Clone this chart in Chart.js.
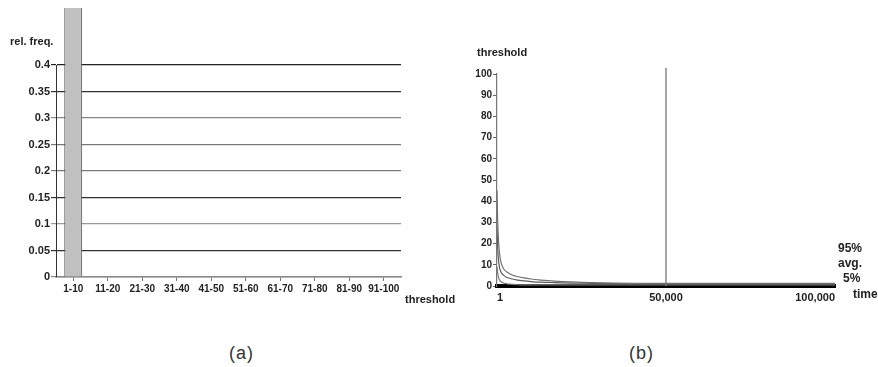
<!DOCTYPE html>
<html>
<head>
<meta charset="utf-8">
<script src="https://cdn.jsdelivr.net/npm/chart.js@4.4.1/dist/chart.umd.min.js"></script>
<style>
  html, body { margin: 0; padding: 0; background: #fff; }
  #wrap { position: relative; width: 878px; height: 367px; overflow: hidden; background: #fff; }
  canvas { position: absolute; }
  .t { position: absolute; font-family: "Liberation Sans", Arial, sans-serif; color: #222; white-space: nowrap; line-height: 1; }
  .b { font-weight: bold; font-size: 11px; }
  .cap { font-size: 18px; letter-spacing: 1px; color: #333; }
</style>
</head>
<body>
<div id="wrap">
  <canvas id="ca" width="440" height="300" style="left:0px;top:8px;"></canvas>
  <canvas id="cb" width="438" height="290" style="left:440px;top:40px;"></canvas>
  <div class="t b" style="left:10px;top:36px;">rel. freq.</div>
  <div class="t b" style="left:405px;top:294px;">threshold</div>
  <div class="t b" style="left:477px;top:47px;">threshold</div>
  <div class="t b" style="left:838px;top:242px;font-size:12px;">95%</div>
  <div class="t b" style="left:838px;top:257px;font-size:12px;">avg.</div>
  <div class="t b" style="left:843px;top:272px;font-size:12px;">5%</div>
  <div class="t b" style="left:853px;top:288px;font-size:12px;">time</div>
  <div class="t cap" style="left:229px;top:344px;">(a)</div>
  <div class="t cap" style="left:629px;top:344px;">(b)</div>
</div>
<script>
// ---------- Panel (a) data ----------
const thresholdBins = ['1-10','11-20','21-30','31-40','41-50','51-60','61-70','71-80','81-90','91-100'];
const relFreq = [0.97, 0, 0, 0, 0, 0, 0, 0, 0, 0];
const relFreqTicks = [0, 0.05, 0.1, 0.15, 0.2, 0.25, 0.3, 0.35, 0.4];

// ---------- Panel (b) data ----------
const timeSteps   = [1, 300, 700, 1200, 2000, 3000, 4500, 6000, 8000, 10000, 13000, 17000, 22000, 28000, 35000, 45000, 60000, 80000, 100000];
const threshold95 = [45, 26, 16, 11, 8, 6.5, 5.2, 4.5, 3.8, 3.3, 2.8, 2.3, 1.9, 1.6, 1.4, 1.25, 1.2, 1.2, 1.2];
const thresholdAvg= [28, 15, 9, 6.5, 5, 4, 3.3, 2.8, 2.4, 2.1, 1.8, 1.6, 1.4, 1.2, 1.1, 1.0, 1.0, 1.0, 1.0];
const threshold5  = [9, 5, 3, 2, 1.4, 1.0, 0.8, 0.6, 0.5, 0.5, 0.5, 0.5, 0.5, 0.5, 0.5, 0.5, 0.5, 0.5, 0.5];
const markerTime  = [50000, 50000];
const markerLevel = [0, 103];
const timeTicks   = [1, 50000, 100000];
const thresholdTicks = [0, 10, 20, 30, 40, 50, 60, 70, 80, 90, 100];

const FONT = '"Liberation Sans", Arial, sans-serif';
Chart.defaults.font.family = FONT;
Chart.defaults.color = '#222';

const gridShade = ['#888', '#333', '#999', '#333', '#777', '#777', '#888', '#333', '#222'];

new Chart(document.getElementById('ca'), {
  type: 'bar',
  data: {
    labels: thresholdBins,
    datasets: [{
      data: relFreq,
      backgroundColor: '#c0c0c0',
      borderColor: '#444',
      borderWidth: { left: 1, right: 1, top: 1, bottom: 0 },
      borderSkipped: false,
      barPercentage: 0.52,
      categoryPercentage: 1,
      clip: false
    }]
  },
  options: {
    responsive: false,
    animation: false,
    events: [],
    layout: { padding: { top: 57, right: 39, left: 0, bottom: 0 } },
    plugins: { legend: { display: false }, tooltip: { enabled: false } },
    scales: {
      x: {
        offset: true,
        grid: { offset: false, drawOnChartArea: false, drawTicks: true, tickLength: 4, color: '#777', lineWidth: 1 },
        border: { color: '#888', width: 1.5 },
        ticks: { font: { size: 10, weight: 'bold' }, color: '#222', padding: 2, maxRotation: 0, autoSkip: false },
        afterFit: s => { s.height = 31; }
      },
      y: {
        min: 0, max: 0.4,
        afterBuildTicks: s => { s.ticks = relFreqTicks.map(v => ({ value: v })); },
        grid: {
          color: ctx => gridShade[ctx.index] || '#444',
          lineWidth: 1.2,
          tickLength: 5,
          drawTicks: true
        },
        border: { color: '#333', width: 1 },
        ticks: { font: { size: 11, weight: 'bold' }, color: '#222', padding: 1, callback: v => String(v) },
        afterFit: s => { s.width = 56; }
      }
    }
  }
});

const xy = (xs, ys) => xs.map((x, i) => ({ x: x, y: ys[i] }));

new Chart(document.getElementById('cb'), {
  type: 'line',
  data: {
    datasets: [
      { label: '95%', data: xy(timeSteps, threshold95), borderColor: '#707070', borderWidth: 1.2, pointRadius: 0, tension: 0.35, fill: false },
      { label: 'avg.', data: xy(timeSteps, thresholdAvg), borderColor: '#5a5a5a', borderWidth: 1.2, pointRadius: 0, tension: 0.35, fill: false },
      { label: '5%', data: xy(timeSteps, threshold5), borderColor: '#7a7a7a', borderWidth: 1.2, pointRadius: 0, tension: 0.35, fill: false },
      { label: 'marker', data: xy(markerTime, markerLevel), borderColor: '#888', borderWidth: 1.5, pointRadius: 0, clip: false }
    ]
  },
  options: {
    responsive: false,
    animation: false,
    events: [],
    layout: { padding: { top: 34, right: 43, left: 0, bottom: 0 } },
    plugins: { legend: { display: false }, tooltip: { enabled: false } },
    scales: {
      x: {
        type: 'linear',
        min: 1, max: 100000,
        afterBuildTicks: s => { s.ticks = timeTicks.map(v => ({ value: v })); },
        grid: { display: false, drawTicks: false },
        border: { color: '#000', width: 4 },
        ticks: {
          align: 'inner',
          font: { size: 11, weight: 'bold' }, color: '#222', padding: 5, maxRotation: 0,
          callback: v => v.toLocaleString('en-US')
        },
        afterFit: s => { s.height = 44; }
      },
      y: {
        min: 0, max: 100,
        afterBuildTicks: s => { s.ticks = thresholdTicks.map(v => ({ value: v })); },
        grid: { drawOnChartArea: false, drawTicks: true, tickLength: 4, color: '#666' },
        border: { color: '#777', width: 1.2 },
        ticks: { font: { size: 10, weight: 'bold' }, color: '#222', padding: 1 },
        afterFit: s => { s.width = 57; }
      }
    }
  }
});
</script>
</body>
</html>
